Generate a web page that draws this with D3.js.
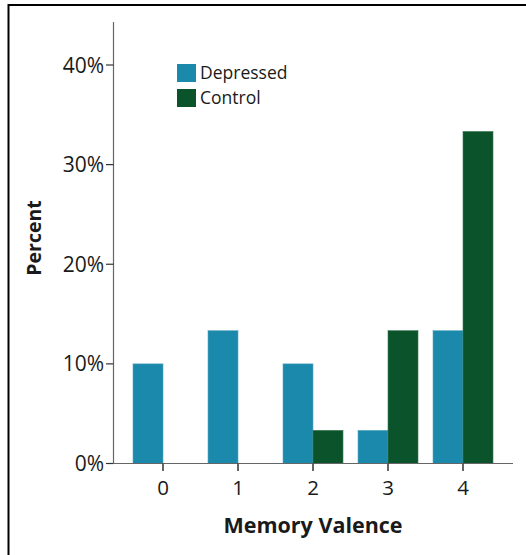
<!DOCTYPE html>
<html><head><meta charset="utf-8">
<script src="https://cdn.jsdelivr.net/npm/d3@7"></script>
<style>html,body{margin:0;padding:0;background:#fff;}svg{display:block;}</style>
</head><body>
<svg id="chart" width="526" height="555"></svg>
<script>
const categories = ["0", "1", "2", "3", "4"];
const seriesNames = ["Depressed", "Control"];
const depressed = [10, 13.33, 10, 3.33, 13.33];
const control = [0, 0, 3.33, 13.33, 33.33];
const yTicks = [0, 10, 20, 30, 40];
const colors = ["#1b89ab", "#0b532b"];

const svg = d3.select("#chart");
const font = "'Open Sans', sans-serif";

// frame (left and top edges)
svg.append("path").attr("d", "M8.5,555 V5 H526").attr("fill", "none").attr("stroke", "#000").attr("stroke-width", 2);

const x = d3.scaleBand().domain(categories).range([125.5, 500.5]).paddingInner(0.2).paddingOuter(0.1);
const xs = d3.scaleBand().domain(seriesNames).range([0, 60]);
const y = d3.scaleLinear().domain([0, 40]).range([463.5, 65]);

const data = categories.map((c, i) => ({c, vals: [depressed[i], control[i]]}));

const g = svg.append("g");
const center = c => x(c) + x.bandwidth() / 2;
g.selectAll("g.grp").data(data).join("g")
  .attr("transform", d => `translate(${center(d.c) - 30},0)`)
  .selectAll("rect").data(d => d.vals.map((v, j) => ({v, j})).filter(e => e.v > 0)).join("rect")
  .attr("x", e => xs(seriesNames[e.j]))
  .attr("width", xs.bandwidth())
  .attr("y", e => y(e.v))
  .attr("height", e => y(0) - y(e.v))
  .attr("fill", e => colors[e.j])
  .attr("stroke", e => e.j === 0 ? "#5aa9c4" : "#3e7a55")
  .attr("stroke-width", 0.6);

// y axis
g.append("line").attr("x1", 113.5).attr("x2", 113.5).attr("y1", 22).attr("y2", 463.5).attr("stroke", "#666").attr("stroke-width", 1.2);
g.selectAll("line.yt").data(yTicks).join("line")
  .attr("x1", 106).attr("x2", 113.5).attr("y1", d => y(d)).attr("y2", d => y(d)).attr("stroke", "#333").attr("stroke-width", 1.2);
g.selectAll("text.yl").data(yTicks).join("text")
  .attr("x", 104).attr("y", d => y(d)).attr("dy", "0.36em")
  .attr("text-anchor", "end").attr("font-family", font).attr("font-size", 21).attr("fill", "#1a1a1a")
  .text(d => d + "%");

// x axis
g.append("line").attr("x1", 113).attr("x2", 513).attr("y1", 463.5).attr("y2", 463.5).attr("stroke", "#666").attr("stroke-width", 1.2);
g.selectAll("line.xt").data(categories).join("line")
  .attr("x1", d => center(d)).attr("x2", d => center(d)).attr("y1", 463.5).attr("y2", 471).attr("stroke", "#333").attr("stroke-width", 1.5);
g.selectAll("text.xl").data(categories).join("text")
  .attr("x", d => center(d)).attr("y", 495)
  .attr("text-anchor", "middle").attr("font-family", font).attr("font-size", 20.5).attr("fill", "#1a1a1a")
  .text(d => d);

// axis titles
svg.append("text").attr("x", 313).attr("y", 533).attr("text-anchor", "middle")
  .attr("font-family", font).attr("font-weight", "bold").attr("font-size", 21.5).attr("fill", "#1a1a1a").text("Memory Valence");
svg.append("text").attr("transform", "translate(41,238) rotate(-90)").attr("text-anchor", "middle")
  .attr("font-family", font).attr("font-weight", "bold").attr("font-size", 19.5).attr("fill", "#1a1a1a").text("Percent");

// legend
const lg = svg.append("g").attr("transform", "translate(177,64)");
seriesNames.forEach((s, i) => {
  lg.append("rect").attr("x", 0).attr("y", i * 25).attr("width", 19).attr("height", 18).attr("fill", colors[i]);
  lg.append("text").attr("x", 23).attr("y", i * 25 + 15).attr("font-family", font).attr("font-size", 17.5).attr("fill", "#1a1a1a").text(s);
});
</script>
</body></html>
